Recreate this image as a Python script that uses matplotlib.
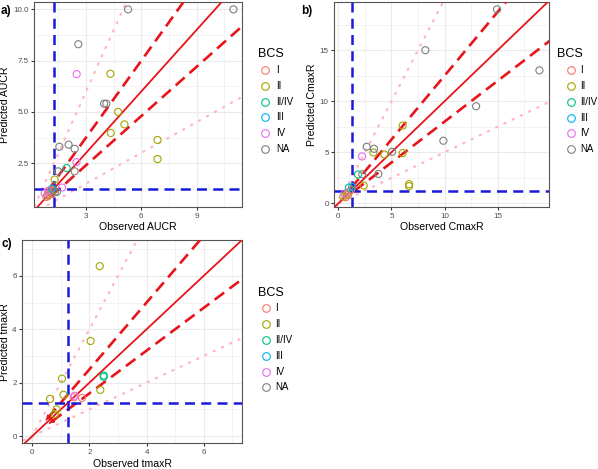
import matplotlib
matplotlib.use("Agg")
import matplotlib.pyplot as plt
from matplotlib.lines import Line2D
from matplotlib.ticker import MultipleLocator, FormatStrFormatter

plt.rcParams['font.family'] = ['Liberation Sans', 'DejaVu Sans']

bcs_levels = ["I", "II", "II/IV", "III", "IV", "NA"]
bcs_colors = ["#F8766D", "#A3A500", "#00BF7D", "#00B0F6", "#E76BF3", "#7F7F7F"]

# panel a: AUCR
auc_obs = [5.28, 11.0, 2.58, 3.98, 4.10, 1.55, 2.05, 2.38, 1.48, 2.38, 1.42, 1.30,
           4.32, 4.74, 5.08, 4.34, 6.88, 6.88, 1.29, 1.24, 0.90,
           1.95,
           2.49, 2.48, 1.70, 0.75, 0.95,
           0.85, 0.95, 1.00, 1.10,
           1.15]
auc_pred = [10.0, 10.0, 8.30, 5.40, 5.40, 3.30, 3.40, 3.20, 2.10, 2.10, 1.10, 1.08,
            6.86, 5.00, 4.39, 3.97, 3.63, 2.70, 1.70, 1.19, 0.95,
            2.26,
            6.84, 2.55, 1.31, 1.02, 1.15,
            0.85, 0.90, 1.00, 1.18,
            1.25]
auc_bcs = ["NA"] * 12 + ["II"] * 9 + ["II/IV"] + ["IV"] * 5 + ["I"] * 4 + ["III"]

# panel b: CmaxR
cmax_obs = [14.94, 8.19, 18.93, 12.97, 9.89, 2.67, 3.36, 5.06, 3.77, 2.25,
            3.30, 4.33, 6.06, 6.06, 6.66, 6.66, 2.39, 0.47, 0.80,
            1.85, 1.00,
            1.30,
            2.23, 0.60,
            0.70, 0.90, 1.00, 1.20]
cmax_pred = [19.0, 15.0, 13.02, 9.51, 6.13, 5.54, 5.34, 5.05, 2.88, 2.85,
             4.98, 4.79, 4.92, 7.61, 1.87, 1.68, 1.74, 0.65, 0.90,
             2.82, 1.54,
             1.60,
             4.59, 0.95,
             0.60, 0.80, 1.10, 1.30]
cmax_bcs = ["NA"] * 10 + ["II"] * 9 + ["II/IV"] * 2 + ["III"] + ["IV"] * 2 + ["I"] * 4

# panel c: tmaxR
tmax_obs = [2.36, 2.04, 1.04, 1.09, 0.62, 0.79, 2.38, 0.85,
            2.50, 2.50,
            1.48,
            1.74, 1.45]
tmax_pred = [6.36, 3.56, 2.15, 1.55, 1.39, 0.82, 1.73, 1.00,
             2.27, 2.22,
             1.51,
             1.43, 1.45]
tmax_bcs = ["II"] * 8 + ["II/IV"] * 2 + ["IV"] + ["I"] * 2

W, H = 598, 469
fig = plt.figure(figsize=(W / 100, H / 100), dpi=100)


def fx(px):
    return px / W


def fy(py):
    return 1 - py / H


def draw_panel(box, obs, pred, bcs, xlim, ylim, xmaj, ymaj, xlab, ylab,
               ylab_x, xlab_y, arrow_start, solid_arrow, yfmt=None):
    l, t, r, b = box
    ax = fig.add_axes([fx(l), fy(b), (r - l) / W, (b - t) / H])
    ax.set_xlim(*xlim)
    ax.set_ylim(*ylim)
    ax.xaxis.set_major_locator(MultipleLocator(xmaj))
    ax.xaxis.set_minor_locator(MultipleLocator(xmaj / 2))
    ax.yaxis.set_major_locator(MultipleLocator(ymaj))
    ax.yaxis.set_minor_locator(MultipleLocator(ymaj / 2))
    if yfmt:
        ax.yaxis.set_major_formatter(FormatStrFormatter(yfmt))
    ax.grid(which='major', color='#EBEBEB', lw=0.8, zorder=0)
    ax.grid(which='minor', color='#EBEBEB', lw=0.4, zorder=0)
    ax.set_axisbelow(True)
    for s in ax.spines.values():
        s.set_color('#555555')
        s.set_linewidth(0.8)
    ax.tick_params(which='major', length=2.5, color='#333333', labelsize=5.8,
                   labelcolor='#4D4D4D', pad=1.5)
    ax.tick_params(which='minor', length=0)
    fig.text(fx(ylab_x), fy((t + b) / 2), ylab, fontsize=7.6, rotation=90,
             ha='center', va='center')
    fig.text(fx((l + r) / 2), fy(xlab_y), xlab, fontsize=7.6,
             ha='center', va='center')

    lo = min(xlim[0], ylim[0]) - 1
    hi = max(xlim[1], ylim[1]) + 1
    xs = [lo, hi]
    for k in (2.0, 0.5):
        ax.plot(xs, [k * v for v in xs], color='#FFB6C1', lw=1.6,
                ls=(0, (0.6, 3.5)), dash_capstyle='round', zorder=2)
    ax.plot(xs, xs, color='#E8141B', lw=1.3, zorder=3)
    for k in (1.25, 0.8):
        x0 = arrow_start if k > 1 else arrow_start * 1.25
        ax.plot([x0, hi], [k * x0, k * hi], color='#E8141B', lw=1.9,
                ls=(0, (4.5, 2.5)), zorder=3)
        ax.annotate('', xy=(x0 * 0.85, k * x0 * 0.85), xytext=(x0, k * x0),
                    arrowprops=dict(arrowstyle='-|>', color='#E8141B', lw=1,
                                    mutation_scale=7), zorder=3)
    if solid_arrow is not None:
        a = solid_arrow
        ax.annotate('', xy=(a, a), xytext=(a + 0.4, a + 0.4),
                    arrowprops=dict(arrowstyle='-|>', color='#E8141B', lw=1,
                                    mutation_scale=7), zorder=3)
    ax.axvline(1.25, color='#1A1ADB', lw=1.8, ls=(0, (4, 2.5)), zorder=4)
    ax.axhline(1.25, color='#1A1ADB', lw=1.8, ls=(0, (4, 2.5)), zorder=4)

    for lev, col in zip(bcs_levels, bcs_colors):
        px = [o for o, c in zip(obs, bcs) if c == lev]
        py = [p for p, c in zip(pred, bcs) if c == lev]
        if px:
            ax.scatter(px, py, s=26, facecolors='none', edgecolors=col,
                       linewidths=0.8, zorder=5)
    return ax


def draw_legend(title_x, title_y, circ_x, text_x, first_y, step=15.8):
    fig.text(fx(title_x), fy(title_y), "BCS", fontsize=9, va='center', ha='left')
    for i, (lev, col) in enumerate(zip(bcs_levels, bcs_colors)):
        y = fy(first_y + i * step)
        fig.add_artist(Line2D([fx(circ_x)], [y], marker='o', ms=5.5, mfc='none',
                              mec=col, mew=0.8, ls='none'))
        fig.text(fx(text_x), y, lev, fontsize=7, va='center', ha='left')


draw_panel((34.3, 2, 242.3, 207), auc_obs, auc_pred, auc_bcs,
           (0.19, 11.48), (0.36, 10.36), 3, 2.5, "Observed AUCR", "Predicted AUCR",
           5, 227, 0.9, None, yfmt='%.1f')
draw_panel((334.3, 2, 549.3, 207), cmax_obs, cmax_pred, cmax_bcs,
           (-0.38, 19.86), (-0.36, 19.72), 5, 5, "Observed CmaxR", "Predicted CmaxR",
           312, 227, 1.2, None)
draw_panel((22.3, 240, 242.3, 443.3), tmax_obs, tmax_pred, tmax_bcs,
           (-0.35, 7.35), (-0.27, 7.34), 2, 2, "Observed tmaxR", "Predicted tmaxR",
           5, 464, 0.55, -0.3)

draw_legend(258, 54.3, 265, 276, 70)
draw_legend(557.5, 54.3, 570.5, 580.5, 70.3)
draw_legend(258.3, 293.3, 265.7, 275.3, 308.3)

fig.text(fx(1), fy(11), "a)", fontsize=8.5, fontweight='bold', va='center')
fig.text(fx(301), fy(11), "b)", fontsize=8.5, fontweight='bold', va='center')
fig.text(fx(1), fy(244), "c)", fontsize=8.5, fontweight='bold', va='center')

fig.savefig("out.png", dpi=100)
